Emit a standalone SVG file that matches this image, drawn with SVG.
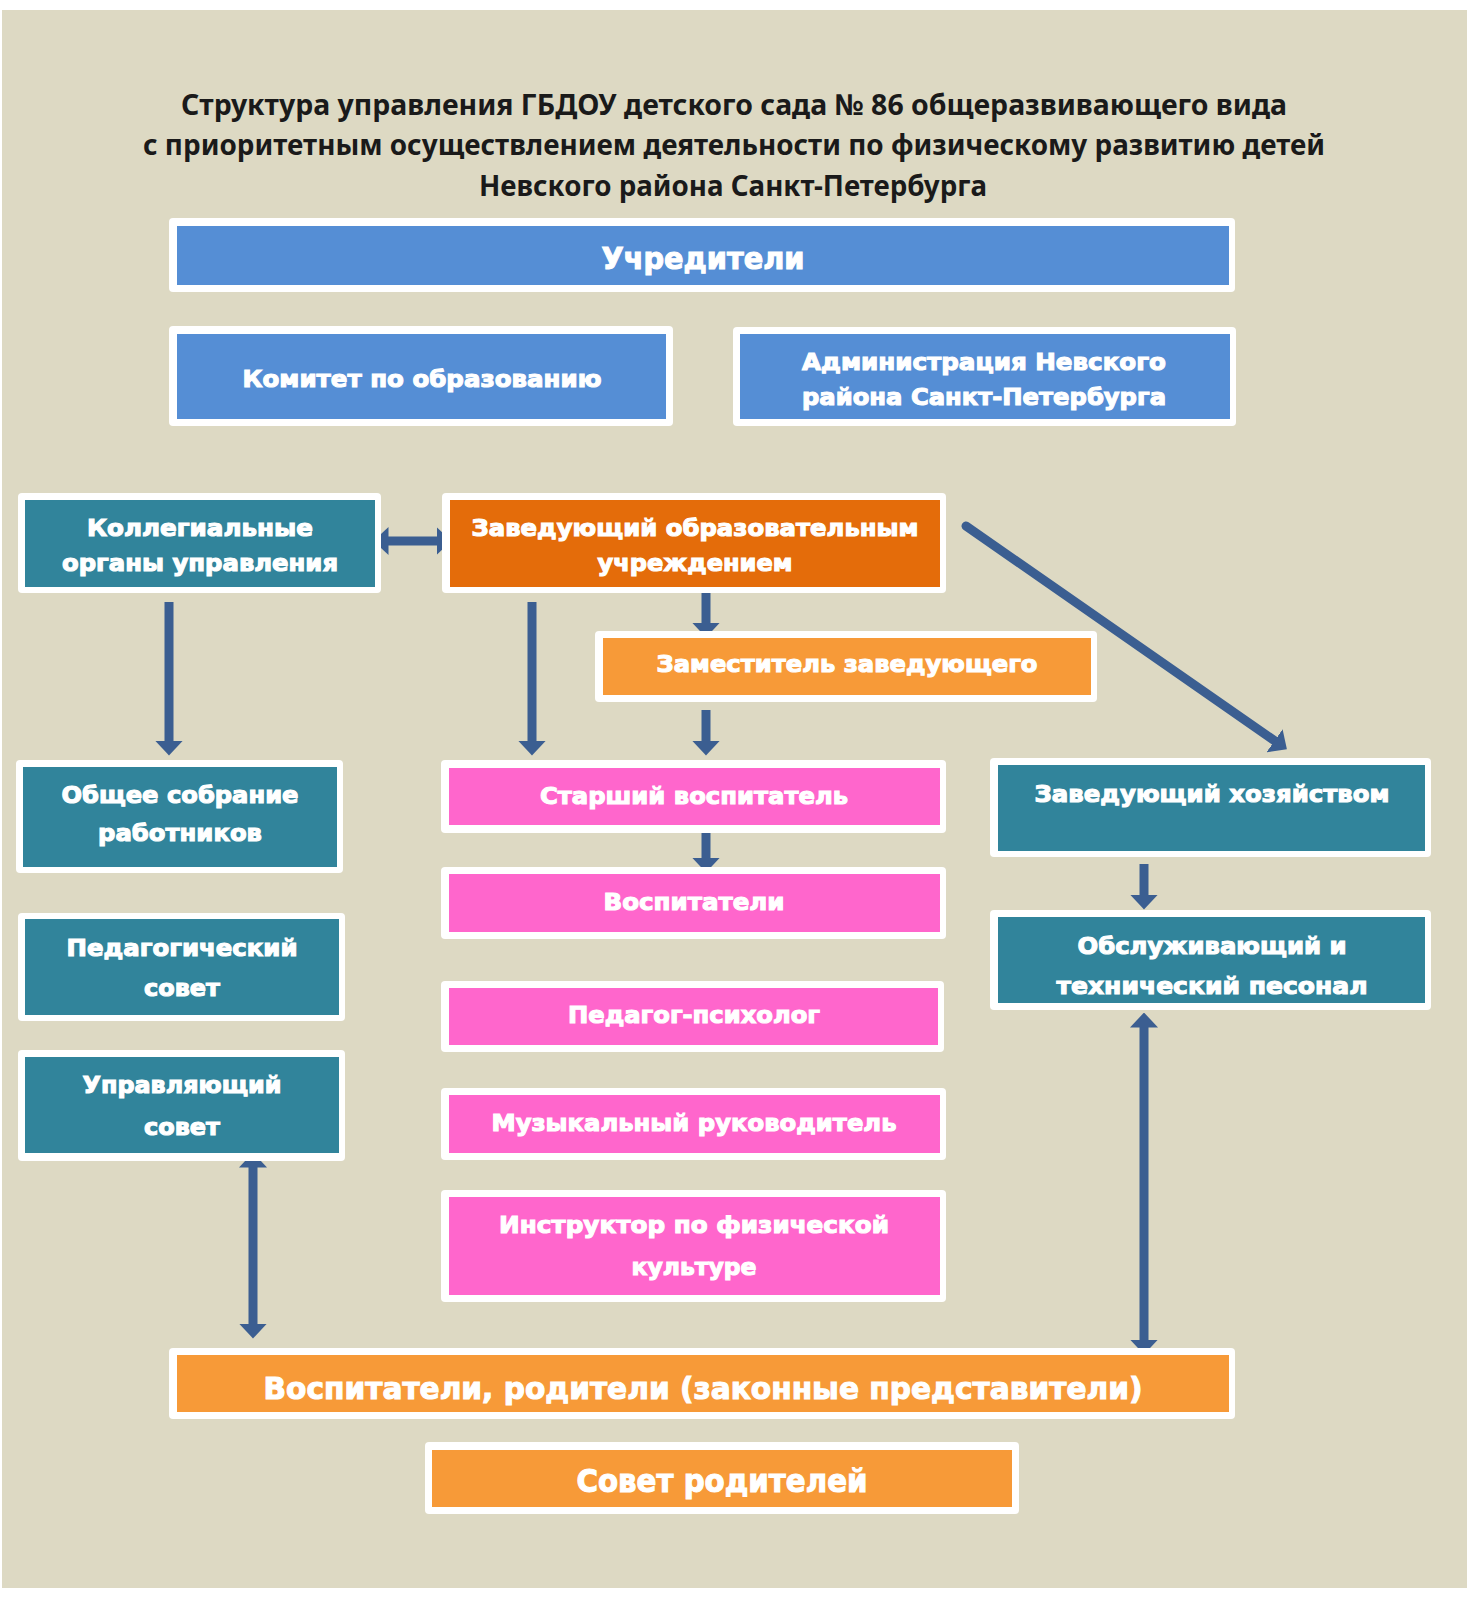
<svg xmlns="http://www.w3.org/2000/svg" width="1472" height="1597" viewBox="0 0 1472 1597">
<defs>
<style>
.bg{fill:#DDD9C3}
.o{fill:#FFFFFF}
.blue{fill:#558ED5}
.teal{fill:#31849B}
.dor{fill:#E46C0A}
.or{fill:#F79A38}
.pink{fill:#FF66CC}
.t{font-family:"DejaVu Sans","Liberation Sans",sans-serif;font-weight:bold;font-size:23px;fill:#FFFFFF;stroke:#FFFFFF;stroke-width:1.1px;text-anchor:middle;dominant-baseline:central}
.ttl{font-family:"Noto Sans","Open Sans",sans-serif;font-weight:bold;font-size:29px;fill:#1A1A1A;text-anchor:middle;dominant-baseline:central}
.a{stroke:#3B5E91;stroke-width:9;fill:none}
</style>
<marker id="ah" viewBox="0 0 15 28" refX="0.5" refY="14" markerWidth="15" markerHeight="28" markerUnits="userSpaceOnUse" orient="auto-start-reverse">
<path d="M0,0 L15,14 L0,28 Z" fill="#3B5E91"/>
</marker>
</defs>
<rect class="bg" x="2" y="10" width="1465" height="1578"/>
<g id="title">
<text class="ttl" x="734" y="103" textLength="1106" lengthAdjust="spacingAndGlyphs">Структура управления  ГБДОУ детского сада № 86 общеразвивающего вида</text>
<text class="ttl" x="734" y="143" textLength="1182" lengthAdjust="spacingAndGlyphs">с приоритетным осуществлением деятельности по физическому развитию детей</text>
<text class="ttl" x="733" y="184" textLength="508" lengthAdjust="spacingAndGlyphs">Невского района Санкт-Петербурга</text>
</g>
<g id="connectors">
<line class="a" x1="388" y1="541" x2="437" y2="541" marker-start="url(#ah)" marker-end="url(#ah)"/>
<line class="a" x1="169" y1="602" x2="169" y2="741" marker-end="url(#ah)"/>
<line class="a" x1="532" y1="602" x2="532" y2="741" marker-end="url(#ah)"/>
<line class="a" x1="706" y1="593" x2="706" y2="623" marker-end="url(#ah)"/>
<line class="a" x1="706" y1="710" x2="706" y2="741" marker-end="url(#ah)"/>
<line class="a" x1="706" y1="827" x2="706" y2="858" marker-end="url(#ah)"/>
<line class="a" x1="966" y1="526" x2="1275" y2="741" stroke-linecap="round" marker-end="url(#ah)"/>
<line class="a" x1="1144" y1="864" x2="1144" y2="895" marker-end="url(#ah)"/>
<line class="a" x1="1144" y1="1027" x2="1144" y2="1340" marker-start="url(#ah)" marker-end="url(#ah)"/>
<line class="a" x1="253" y1="1167" x2="253" y2="1324" marker-start="url(#ah)" marker-end="url(#ah)"/>
</g>
<g id="n-uchrediteli">
<rect class="o" x="169" y="218" width="1066" height="74" rx="4"/>
<rect class="blue" x="177" y="226" width="1052" height="59"/>
<text class="t" x="703" y="258" style="font-size:30px" textLength="203" lengthAdjust="spacingAndGlyphs">Учредители</text>
</g>
<g id="n-komitet">
<rect class="o" x="169" y="326" width="504" height="100" rx="4"/>
<rect class="blue" x="177" y="334" width="489" height="85"/>
<text class="t" x="422" y="379" textLength="359" lengthAdjust="spacingAndGlyphs">Комитет по образованию</text>
</g>
<g id="n-admin">
<rect class="o" x="733" y="327" width="503" height="99" rx="4"/>
<rect class="blue" x="740" y="334" width="490" height="85"/>
<text class="t" x="984" y="362" textLength="364" lengthAdjust="spacingAndGlyphs">Администрация Невского</text>
<text class="t" x="984" y="397" textLength="364" lengthAdjust="spacingAndGlyphs">района Санкт-Петербурга</text>
</g>
<g id="n-kolleg">
<rect class="o" x="18" y="493" width="363" height="100" rx="4"/>
<rect class="teal" x="25" y="500" width="350" height="87"/>
<text class="t" x="200" y="528" textLength="226" lengthAdjust="spacingAndGlyphs">Коллегиальные</text>
<text class="t" x="200" y="563" textLength="276" lengthAdjust="spacingAndGlyphs">органы управления</text>
</g>
<g id="n-zav">
<rect class="o" x="442" y="493" width="504" height="100" rx="4"/>
<rect class="dor" x="450" y="500" width="490" height="87"/>
<text class="t" x="695" y="528" textLength="447" lengthAdjust="spacingAndGlyphs">Заведующий образовательным</text>
<text class="t" x="695" y="563" textLength="195" lengthAdjust="spacingAndGlyphs">учреждением</text>
</g>
<g id="n-zam">
<rect class="o" x="595" y="631" width="502" height="71" rx="4"/>
<rect class="or" x="603" y="638" width="488" height="57"/>
<text class="t" x="847" y="664" textLength="381" lengthAdjust="spacingAndGlyphs">Заместитель заведующего</text>
</g>
<g id="n-starshiy">
<rect class="o" x="441" y="760" width="505" height="73" rx="4"/>
<rect class="pink" x="449" y="768" width="491" height="57"/>
<text class="t" x="694" y="796" textLength="308" lengthAdjust="spacingAndGlyphs">Старший воспитатель</text>
</g>
<g id="n-vospitateli">
<rect class="o" x="441" y="867" width="505" height="72" rx="4"/>
<rect class="pink" x="449" y="874" width="491" height="58"/>
<text class="t" x="694" y="902" textLength="181" lengthAdjust="spacingAndGlyphs">Воспитатели</text>
</g>
<g id="n-psiholog">
<rect class="o" x="441" y="981" width="503" height="71" rx="4"/>
<rect class="pink" x="449" y="988" width="489" height="57"/>
<text class="t" x="694" y="1015" textLength="252" lengthAdjust="spacingAndGlyphs">Педагог-психолог</text>
</g>
<g id="n-muz">
<rect class="o" x="441" y="1088" width="505" height="72" rx="4"/>
<rect class="pink" x="449" y="1095" width="491" height="58"/>
<text class="t" x="694" y="1123" textLength="405" lengthAdjust="spacingAndGlyphs">Музыкальный руководитель</text>
</g>
<g id="n-instr">
<rect class="o" x="441" y="1190" width="505" height="112" rx="4"/>
<rect class="pink" x="449" y="1197" width="491" height="98"/>
<text class="t" x="694" y="1225" textLength="390" lengthAdjust="spacingAndGlyphs">Инструктор по физической</text>
<text class="t" x="694" y="1267" textLength="125" lengthAdjust="spacingAndGlyphs">культуре</text>
</g>
<g id="n-obshee">
<rect class="o" x="16" y="760" width="327" height="113" rx="4"/>
<rect class="teal" x="23" y="767" width="314" height="100"/>
<text class="t" x="180" y="795" textLength="237" lengthAdjust="spacingAndGlyphs">Общее собрание</text>
<text class="t" x="180" y="833" textLength="164" lengthAdjust="spacingAndGlyphs">работников</text>
</g>
<g id="n-pedsovet">
<rect class="o" x="18" y="913" width="327" height="108" rx="4"/>
<rect class="teal" x="25" y="919" width="314" height="96"/>
<text class="t" x="182" y="948" textLength="231" lengthAdjust="spacingAndGlyphs">Педагогический</text>
<text class="t" x="182" y="988" textLength="76" lengthAdjust="spacingAndGlyphs">совет</text>
</g>
<g id="n-upravsovet">
<rect class="o" x="18" y="1050" width="327" height="111" rx="4"/>
<rect class="teal" x="25" y="1057" width="314" height="96"/>
<text class="t" x="182" y="1085" textLength="199" lengthAdjust="spacingAndGlyphs">Управляющий</text>
<text class="t" x="182" y="1127" textLength="76" lengthAdjust="spacingAndGlyphs">совет</text>
</g>
<g id="n-zavhoz">
<rect class="o" x="990" y="758" width="441" height="99" rx="4"/>
<rect class="teal" x="998" y="765" width="427" height="86"/>
<text class="t" x="1212" y="794" textLength="355" lengthAdjust="spacingAndGlyphs">Заведующий хозяйством</text>
</g>
<g id="n-obsl">
<rect class="o" x="990" y="910" width="441" height="100" rx="4"/>
<rect class="teal" x="998" y="917" width="427" height="86"/>
<text class="t" x="1212" y="946" textLength="269" lengthAdjust="spacingAndGlyphs">Обслуживающий и</text>
<text class="t" x="1212" y="986" textLength="311" lengthAdjust="spacingAndGlyphs">технический песонал</text>
</g>
<g id="n-roditeli">
<rect class="o" x="169" y="1348" width="1066" height="71" rx="4"/>
<rect class="or" x="177" y="1355" width="1052" height="57"/>
<text class="t" x="703" y="1388" style="font-size:30px" textLength="879" lengthAdjust="spacingAndGlyphs">Воспитатели, родители (законные представители)</text>
</g>
<g id="n-sovetrod">
<rect class="o" x="425" y="1442" width="594" height="72" rx="4"/>
<rect class="or" x="432" y="1450" width="580" height="57"/>
<text class="t" x="722" y="1481" style="font-size:32px" textLength="291" lengthAdjust="spacingAndGlyphs">Совет родителей</text>
</g>
</svg>
